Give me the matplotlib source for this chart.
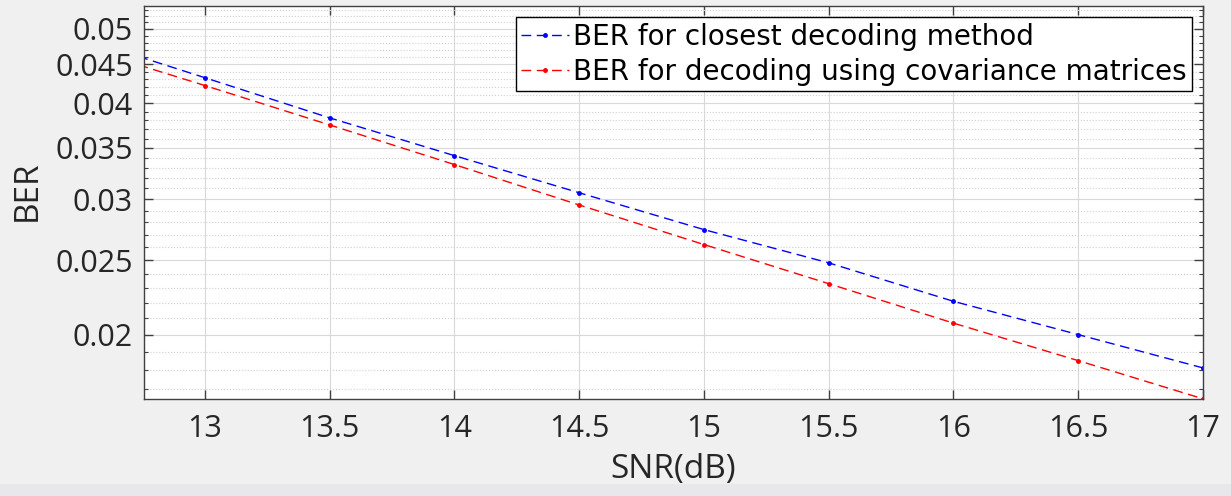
import matplotlib
matplotlib.use("Agg")
import matplotlib.pyplot as plt
from matplotlib.patches import Rectangle
from matplotlib.ticker import FixedLocator, FixedFormatter, NullFormatter

# SNR values (dB) and bit error rates
snr = [12.5, 13, 13.5, 14, 14.5, 15, 15.5, 16, 16.5, 17]
ber_closest = [0.0487, 0.0432, 0.0383, 0.0342, 0.0306, 0.0274, 0.0248, 0.0221, 0.0200, 0.0181]
ber_cov = [0.0474, 0.0422, 0.0375, 0.0333, 0.0295, 0.0262, 0.0233, 0.0207, 0.0185, 0.0165]

x_ticks = [13, 13.5, 14, 14.5, 15, 15.5, 16, 16.5, 17]
x_labels = ["13", "13.5", "14", "14.5", "15", "15.5", "16", "16.5", "17"]
y_ticks = [0.02, 0.025, 0.03, 0.035, 0.04, 0.045, 0.05]
y_labels = ["0.02", "0.025", "0.03", "0.035", "0.04", "0.045", "0.05"]
y_minor = [v / 1000 for v in range(17, 54) if v % 5 != 0]

label_closest = "BER for closest decoding method"
label_cov = "BER for decoding using covariance matrices"

plt.rcParams['font.family'] = ['Open Sans', 'DejaVu Sans']

fig = plt.figure(figsize=(12.31, 4.96), dpi=100, facecolor="#f0f0f0")
# slightly darker strip at the bottom of the window
fig.patches.append(Rectangle((0, 0), 1, 12 / 496, transform=fig.transFigure,
                             facecolor="#e8e8ec", edgecolor="none", zorder=0))

ax = fig.add_axes([144 / 1231, 1 - 399 / 496, (1203 - 144) / 1231, (399 - 6) / 496])
ax.set_facecolor("white")

ax.plot(snr, ber_closest, color="blue", linestyle="--", dashes=(7, 4), lw=1.0,
        marker=".", markersize=5, label=label_closest)
ax.plot(snr, ber_cov, color="red", linestyle="--", dashes=(7, 4), lw=1.0,
        marker=".", markersize=5, label=label_cov)

ax.set_yscale("log")
ax.set_xlim(12.756, 17)
ax.set_ylim(0.01649, 0.05356)

ax.xaxis.set_major_locator(FixedLocator(x_ticks))
ax.xaxis.set_major_formatter(FixedFormatter(x_labels))
ax.yaxis.set_major_locator(FixedLocator(y_ticks))
ax.yaxis.set_major_formatter(FixedFormatter(y_labels))
ax.yaxis.set_minor_locator(FixedLocator(y_minor))
ax.yaxis.set_minor_formatter(NullFormatter())

ax.grid(True, which="major", color="#d9d9d9", lw=0.8, linestyle="-")
ax.grid(True, which="minor", axis="y", color="#d0d0d0", lw=0.8, linestyle=":")
ax.set_axisbelow(True)

ax.tick_params(which="both", direction="in", top=True, right=True,
               colors="#404040", labelcolor="#262626", labelsize=22)
ax.tick_params(which="major", length=6.5, width=1.0)
ax.tick_params(which="minor", length=3, width=0.8)
ax.tick_params(axis="y", pad=8)
ax.tick_params(axis="x", pad=11)
for s in ax.spines.values():
    s.set_color("#404040")
    s.set_linewidth(1.0)

ax.set_xlabel("SNR(dB)", fontsize=24, color="#262626", labelpad=6)
ax.set_ylabel("BER", fontsize=24, color="#262626")
ax.yaxis.set_label_coords(-0.095, 0.53)

leg = ax.legend(loc="upper right", bbox_to_anchor=(1192 / 1231, 1 - 17 / 496),
                bbox_transform=fig.transFigure, borderaxespad=0, fancybox=False,
                framealpha=1, edgecolor="black", handlelength=1.7, handletextpad=0.15,
                borderpad=0.2, labelspacing=0.25,
                prop={"family": "DejaVu Sans", "size": 20})
leg.get_frame().set_linewidth(1.0)

fig.savefig("out.png", dpi=100, facecolor=fig.get_facecolor())
